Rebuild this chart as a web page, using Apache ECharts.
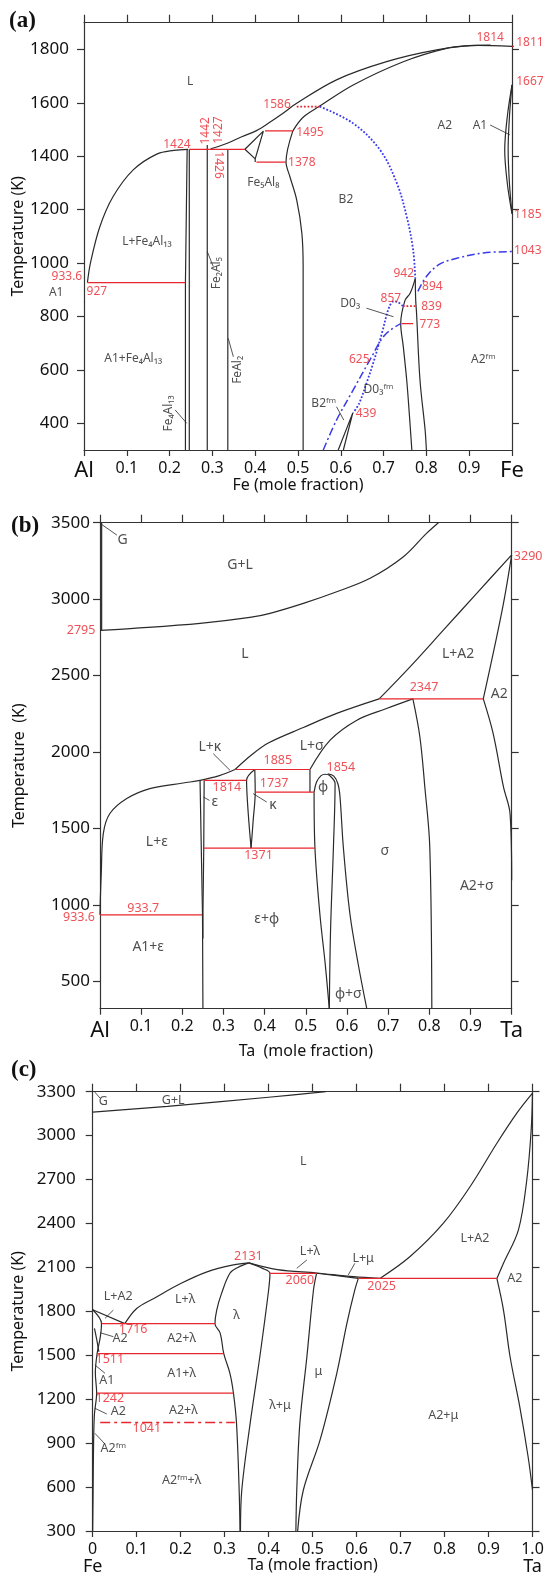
<!DOCTYPE html>
<html><head><meta charset="utf-8">
<script src="https://cdn.jsdelivr.net/npm/echarts@6/dist/echarts.min.js"></script>
<style>html,body{margin:0;padding:0;background:#fff}#c{width:544px;height:1577px}</style>
</head><body><div id="c"></div>
<script>
const FONT = '"Noto Sans","DejaVu Sans",sans-serif';
// ---------- tick values ----------
const xTicks = [0,0.1,0.2,0.3,0.4,0.5,0.6,0.7,0.8,0.9,1];
const yTicksA = [400,600,800,1000,1200,1400,1600,1800];
const yTicksB = [500,1000,1500,2000,2500,3000,3500];
const yTicksC = [300,600,900,1200,1500,1800,2100,2400,2700,3000,3300];

// ---------- panel (a) Al-Fe ----------
const aLiqLeft = [[0.008,927],[0.015,1000],[0.037,1136],[0.068,1249],[0.115,1349],[0.17,1408],[0.21,1422],[0.243,1426]];
const aFe4Al13L = [[0.237,300],[0.237,927],[0.241,1426]];
const aFe4Al13R = [[0.246,300],[0.246,1426]];
const aFe2Al5 = [[0.288,300],[0.288,1442]];
const aFeAl2 = [[0.336,300],[0.336,1426]];
const aLiqUpper = [[0.296,1428],[0.33,1446],[0.37,1474],[0.403,1496],[0.435,1528],[0.46,1555],[0.497,1598],[0.59,1686],[0.707,1754],[0.824,1798],[0.917,1815],[1.0,1811]];
const aSolB2 = [[0.488,1495],[0.512,1546],[0.551,1588],[0.629,1667],[0.746,1754],[0.847,1804],[0.902,1814],[0.95,1816]];
const aB2Left = [[0.488,1495],[0.472,1378],[0.481,1324],[0.497,1236],[0.509,1112],[0.512,986],[0.512,300]];
const aFe5Al8 = [[0.376,1426],[0.419,1494],[0.40,1390],[0.376,1426]];
const aFe5Al8Tail = [[0.40,1390],[0.40,1378]];
const aOrderB2 = [[0.551,1586],[0.629,1523],[0.692,1423],[0.731,1299],[0.754,1174],[0.769,1049],[0.774,942]];
const aOrderD03 = [[0.745,839],[0.734,853],[0.724,857],[0.713,835],[0.696,737],[0.678,637],[0.66,550],[0.643,475],[0.629,439]];
const aCurieLow = [[0.559,300],[0.59,412],[0.629,525],[0.668,637],[0.703,731],[0.74,773]];
const aCurieHigh = [[0.78,894],[0.80,950],[0.83,995],[0.871,1018],[0.933,1038],[1.0,1043]];
const aA2Bound = [[0.774,942],[0.775,862],[0.777,812],[0.785,562],[0.797,375],[0.80,300]];
const aD03Bound = [[0.774,942],[0.762,887],[0.75,860],[0.74,773],[0.746,687],[0.754,562],[0.76,437],[0.766,300]];
const aB2fm = [[0.594,300],[0.628,439],[0.606,300]];
const aGammaOuter = [[1.0,1667],[0.989,1548],[0.983,1423],[0.989,1299],[1.0,1185]];
const aGammaInner = [[1.0,1667],[0.994,1548],[0.991,1423],[0.994,1299],[1.0,1185]];
const aRed927 = [[0.008,927],[0.237,927]];
const aRed1426 = [[0.246,1426],[0.376,1426]];
const aRed1495 = [[0.423,1495],[0.488,1495]];
const aRed1378 = [[0.403,1378],[0.472,1378]];
const aRed773 = [[0.742,773],[0.769,773]];
const aRed1811 = [[1.0,1811],[1.02,1811]];
const aRed1586 = [[0.497,1586],[0.551,1586]];
const aRed839 = [[0.745,839],[0.777,839]];
const aPtrs = [
  [[-0.044,887],[-0.002,855]], [[0.213,450],[0.24,400]], [[0.288,1043],[0.302,987]],
  [[0.337,718],[0.349,649]], [[0.949,1517],[0.995,1480]], [[0.66,831],[0.723,799]], [[0.59,462],[0.607,412]]
];
const aLabels = [[0.248,1679,'L'],[0.147,1080,'L+Fe₄Al₁₃'],[-0.065,889,'A1'],[0.115,643,'A1+Fe₄Al₁₃'],[0.419,1301,'Fe₅Al₈'],
  [0.612,1236,'B2'],[0.843,1513,'A2'],[0.925,1513,'A1'],[0.622,849,'D0₃'],[0.688,525,'D0₃ᶠᵐ'],[0.56,475,'B2ᶠᵐ'],[0.933,640,'A2ᶠᵐ']];
const aLabelsRot = [[0.197,437,'Fe₄Al₁₃'],[0.31,962,'Fe₂Al₅'],[0.358,600,'FeAl₂']];
const aRedLabels = [[0.949,1843,'1814'],[1.042,1824,'1811'],[1.042,1678,'1667'],[0.451,1592,'1586'],[0.528,1487,'1495'],
  [0.509,1376,'1378'],[0.217,1442,'1424'],[-0.04,949,'933.6'],[0.03,893,'927'],[0.747,962,'942'],[0.814,912,'894'],
  [1.037,1046,'1043'],[1.037,1180,'1185'],[0.717,868,'857'],[0.812,837,'839'],[0.808,768,'773'],[0.643,637,'625'],[0.659,437,'439']];
const aRedUp = [[0.283,1495,'1442'],[0.315,1498,'1427']];
const aRedDown = [[0.315,1367,'1426']];

// ---------- panel (b) Al-Ta ----------
const bGL = [[0,2795],[0.081,2808],[0.243,2841],[0.364,2880],[0.413,2907],[0.494,2972],[0.575,3048],[0.656,3136],[0.737,3277],[0.793,3430],[0.822,3500]];
const bG = [[0.004,2795],[0.004,3500]];
const bLiqLeft = [[0,934],[0.001,1050],[0.003,1200],[0.008,1466],[0.024,1597],[0.065,1695],[0.121,1760],[0.202,1797],[0.243,1814],[0.29,1845],[0.328,1885]];
const bLiqMid = [[0.328,1885],[0.37,1985],[0.41,2060],[0.494,2160],[0.575,2252],[0.678,2347]];
const bLiqA2 = [[0.678,2347],[0.753,2557],[0.834,2797],[0.915,3038],[1.0,3290]];
const bA2Sol = [[1.0,3290],[0.98,2972],[0.955,2645],[0.931,2347]];
const bA2Solv = [[0.931,2347],[0.955,2120],[0.98,1771],[0.996,1596],[1.0,1160]];
const bSigLiq = [[0.51,1885],[0.559,2077],[0.624,2208],[0.696,2284],[0.76,2347]];
const bSigR = [[0.76,2347],[0.777,2098],[0.789,1771],[0.801,1378],[0.806,320]];
const b051 = [[0.51,1885],[0.51,1737]];
const bPhiL = [[0.52,1737],[0.522,1378],[0.534,941],[0.547,614],[0.557,320]];
const bPhiDome = [[0.52,1737],[0.526,1803],[0.537,1845],[0.547,1854],[0.558,1845],[0.571,1793],[0.567,1378],[0.56,832],[0.557,320]];
const bSigL = [[0.553,1856],[0.568,1842],[0.578,1790],[0.583,1705],[0.591,1378],[0.607,941],[0.627,614],[0.648,320]];
const bEpsL = [[0.243,1814],[0.246,1371],[0.249,934],[0.25,320]];
const bEpsR = [[0.253,1814],[0.252,1371],[0.25,934],[0.25,780]];
const bKapL = [[0.376,1885],[0.356,1814],[0.36,1600],[0.367,1371]];
const bKapR = [[0.376,1885],[0.377,1737],[0.372,1550],[0.367,1371]];
const bRed = [[[0,934],[0.248,934]],[[0.253,1814],[0.356,1814]],[[0.328,1885],[0.51,1885]],[[0.377,1737],[0.52,1737]],[[0.252,1371],[0.522,1371]],[[0.678,2347],[0.931,2347]]];
const bPtrs = [[[0,3496],[0.041,3419]],[[0.275,1989],[0.316,1879]],[[0.251,1705],[0.266,1683]],[[0.372,1727],[0.405,1672]]];
const bLabels = [[0.055,3387,'G'],[0.34,3223,'G+L'],[0.352,2644,'L'],[0.87,2644,'L+A2'],[0.97,2382,'A2'],[0.267,2032,'L+κ'],
  [0.514,2037,'L+σ'],[0.279,1672,'ε'],[0.42,1650,'κ'],[0.542,1770,'φ'],[0.138,1410,'L+ε'],[0.117,722,'A1+ε'],
  [0.405,908,'ε+φ'],[0.692,1355,'σ'],[0.915,1126,'A2+σ'],[0.603,416,'φ+σ']];
const bRedLabels = [[-0.046,2797,'2795'],[1.04,3282,'3290'],[0.787,2425,'2347'],[0.432,1945,'1885'],[0.423,1794,'1737'],
  [0.308,1770,'1814'],[0.585,1901,'1854'],[0.385,1322,'1371'],[0.105,973,'933.7'],[-0.051,918,'933.6']];

// ---------- panel (c) Fe-Ta ----------
const cGL = [[0,3160],[0.17,3200],[0.40,3262],[0.53,3300]];
const cLiqA2 = [[0.653,2025],[0.721,2173],[0.797,2401],[0.858,2651],[0.919,2948],[0.964,3152],[1.0,3290]];
const cA2Sol = [[1.0,3290],[0.997,3038],[0.987,2697],[0.968,2356],[0.934,2128],[0.919,2025]];
const cA2Solv = [[0.919,2025],[0.934,1809],[0.949,1490],[0.971,1149],[0.99,807],[1.0,580]];
const cLiqFe = [[0,1811],[0.073,1716]];
const cA2Fe = [[0,1811],[0.02,1716],[0.017,1620],[0.01,1511],[0.006,1380],[0.009,1242],[0.004,1100],[0.002,900],[0.001,600],[0,300]];
const cLoop = [[0.004,1684],[0.009,1610],[0.014,1524]];
const cLiqL = [[0.073,1716],[0.10,1820],[0.14,1890],[0.2,1990],[0.26,2070],[0.32,2117],[0.355,2131]];
const cLiqR = [[0.355,2131],[0.42,2085],[0.509,2062],[0.593,2037],[0.653,2025]];
const cLamL = [[0.355,2131],[0.33,2100],[0.312,2060],[0.293,1923],[0.282,1809],[0.278,1716],[0.29,1650],[0.298,1511],[0.312,1377],[0.32,1242],[0.327,1035],[0.333,580],[0.335,300]];
const cLamR = [[0.355,2131],[0.385,2095],[0.403,2060],[0.40,1946],[0.38,1490],[0.358,1035],[0.339,580],[0.336,300]];
const cMuL = [[0.509,2060],[0.502,1946],[0.487,1490],[0.471,1035],[0.464,580],[0.462,300]];
const cMuR = [[0.604,2025],[0.596,1946],[0.578,1718],[0.555,1377],[0.517,922],[0.479,580],[0.466,300]];
const cMuLiq = [[0.509,2060],[0.56,2042],[0.604,2025]];
const cRed = [[[0.403,2060],[0.509,2060]],[[0.604,2025],[0.919,2025]],[[0.02,1716],[0.278,1716]],[[0.01,1511],[0.298,1511]],[[0.009,1242],[0.32,1242]]];
const cRed1041 = [[0.017,1041],[0.323,1041]];
const cPtrs = [[[0.487,2151],[0.464,2094]],[[0.596,2128],[0.581,2048]],[[0.047,1809],[0.028,1752]],[[0.017,1654],[0.047,1627]],
  [[0.005,1434],[0.028,1377]],[[0.005,1138],[0.032,1099]],[[0.005,967],[0.028,894]],[[0.004,3300],[0.017,3255]]];
const cLabels = [[0.024,3232,'G'],[0.183,3243,'G+L'],[0.479,2822,'L'],[0.869,2299,'L+A2'],[0.96,2026,'A2'],[0.494,2207,'L+λ'],
  [0.615,2162,'L+μ'],[0.058,1900,'L+A2'],[0.21,1878,'L+λ'],[0.327,1775,'λ'],[0.062,1616,'A2'],[0.202,1616,'A2+λ'],
  [0.032,1331,'A1'],[0.202,1377,'A1+λ'],[0.058,1115,'A2'],[0.206,1126,'A2+λ'],[0.047,865,'A2ᶠᵐ'],[0.202,648,'A2ᶠᵐ+λ'],
  [0.426,1160,'λ+μ'],[0.513,1388,'μ'],[0.797,1092,'A2+μ']];
const cRedLabels = [[0.354,2173,'2131'],[0.471,2014,'2060'],[0.657,1968,'2025'],[0.092,1677,'1716'],[0.039,1473,'1511'],[0.039,1206,'1242'],[0.123,1001,'1041']];

// ---------- build ----------
const RED = '#e8262d', BLUE = '#3a3ae8', BLK = '#2a2a2a';
const S = [];
function ln(g, pts, o) {
  o = o || {};
  S.push({type:'line', xAxisIndex:2*g, yAxisIndex:2*g, data:pts, symbol:'none', silent:true, animation:false,
    clip: o.clip === undefined ? true : o.clip, smooth: o.smooth || 0, z: o.z || 2,
    lineStyle:{color:o.color || BLK, width:o.width || 1.2, type:o.type || 'solid'}});
}
function tx(g, items, o) {
  o = o || {};
  S.push({type:'scatter', xAxisIndex:2*g, yAxisIndex:2*g, symbolSize:1, itemStyle:{color:'rgba(0,0,0,0)'},
    clip:false, silent:true, animation:false, z:5,
    data: items.map(d => ({value:[d[0], d[1]], name:d[2]})),
    label:{show:true, position:'inside', formatter:p => p.name, color:o.color || '#222', fontSize:o.size || 12,
      fontFamily:FONT, rotate:o.rotate || 0}});
}
const SM = 0.35, DASHDOT = [8,3,2,3];
// panel a
[aFe4Al13L, aFe4Al13R, aFe2Al5, aFeAl2, aFe5Al8, aFe5Al8Tail, aB2fm].forEach(p => ln(0, p));
[aLiqLeft, aLiqUpper, aSolB2, aB2Left, aA2Bound, aD03Bound, aGammaOuter, aGammaInner].forEach(p => ln(0, p, {smooth:SM}));
ln(0, aOrderB2, {color:BLUE, type:'dotted', width:1.8, smooth:SM});
ln(0, aOrderD03, {color:BLUE, type:'dotted', width:1.8, smooth:SM});
ln(0, aCurieLow, {color:BLUE, type:DASHDOT, width:1.5, smooth:SM});
ln(0, aCurieHigh, {color:BLUE, type:DASHDOT, width:1.5, smooth:SM});
[aRed927, aRed1426, aRed1495, aRed1378, aRed773].forEach(p => ln(0, p, {color:RED}));
ln(0, aRed1811, {color:RED, clip:false});
ln(0, aRed1586, {color:RED, type:'dotted', width:1.8});
ln(0, aRed839, {color:RED, type:'dotted', width:1.8});
aPtrs.forEach(p => ln(0, p, {width:0.8, clip:false}));
tx(0, aLabels, {size:12});
tx(0, aLabelsRot, {size:12, rotate:90});
tx(0, aRedLabels, {size:12, color:RED});
tx(0, aRedUp, {size:12, color:RED, rotate:90});
tx(0, aRedDown, {size:12, color:RED, rotate:-90});
// panel b
[bG, b051, bEpsL, bEpsR].forEach(p => ln(1, p));
[bGL, bLiqLeft, bLiqMid, bLiqA2, bA2Sol, bA2Solv, bSigLiq, bSigR, bPhiL, bPhiDome, bSigL, bKapL, bKapR].forEach(p => ln(1, p, {smooth:SM}));
bRed.forEach(p => ln(1, p, {color:RED}));
bPtrs.forEach(p => ln(1, p, {width:0.8}));
tx(1, bLabels, {size:14});
tx(1, bRedLabels, {size:12.5, color:RED});
// panel c
[cLiqFe, cMuLiq].forEach(p => ln(2, p));
[cGL, cLiqA2, cA2Sol, cA2Solv, cA2Fe, cLoop, cLiqL, cLiqR, cLamL, cLamR, cMuL, cMuR].forEach(p => ln(2, p, {smooth:SM}));
cRed.forEach(p => ln(2, p, {color:RED}));
ln(2, cRed1041, {color:RED, type:[10,4,3,4], width:1.4});
cPtrs.forEach(p => ln(2, p, {width:0.8}));
tx(2, cLabels, {size:12.5});
tx(2, cRedLabels, {size:12.5, color:RED});

// ---------- axes ----------
const grids = [
  {left:84, top:22.7, width:428, height:427.3},
  {left:100, top:522.7, width:411.7, height:486},
  {left:92.7, top:1091.7, width:439.8, height:439.3}
];
const AX = {color:'#333', width:1.2};
const xCfg = [
  {fmt: v => v === 0 ? '{e|Al}' : v === 1 ? '{e|Fe}' : v.toFixed(1), name:'Fe (mole fraction)', gap:27, rich:{e:{fontSize:22, fontFamily:FONT, color:'#111', padding:[6,0,0,0]}}},
  {fmt: v => v === 0 ? '{e|Al}' : v === 1 ? '{e|Ta}' : v.toFixed(1), name:'Ta  (mole fraction)', gap:35, rich:{e:{fontSize:22, fontFamily:FONT, color:'#111', padding:[8,0,0,0]}}},
  {fmt: v => v === 0 ? '0\n{e|Fe}' : v === 1 ? '1.0\n{e|Ta}' : v.toFixed(1), name:'Ta (mole fraction)', gap:26, rich:{e:{fontSize:18, fontFamily:FONT, color:'#111', lineHeight:18}}}
];
const yCfg = [
  {min:300, max:1900, ticks:yTicksA, margin:15, gap:58, name:'Temperature (K)'},
  {min:320, max:3500, ticks:yTicksB, margin:10, gap:73, name:'Temperature  (K)'},
  {min:300, max:3300, ticks:yTicksC, margin:17, gap:66, name:'Temperature (K)'}
];
const xAxis = [], yAxis = [];
for (let g = 0; g < 3; g++) {
  const xc = xCfg[g], yc = yCfg[g];
  xAxis.push({gridIndex:g, type:'value', min:0, max:1, interval:0.1, position:'bottom',
    axisLine:{show:true, onZero:false, lineStyle:AX}, axisTick:{show:true, length:6, lineStyle:AX}, splitLine:{show:false},
    axisLabel:{show:true, formatter:xc.fmt, rich:xc.rich, color:'#111', fontSize:16, fontFamily:FONT, margin:9, lineHeight:18,
      showMinLabel:true, showMaxLabel:true, hideOverlap:false},
    name:xc.name, nameLocation:'middle', nameGap:xc.gap, nameMoveOverlap:false, nameTextStyle:{color:'#111', fontSize:16, fontFamily:FONT}});
  xAxis.push({gridIndex:g, type:'value', min:0, max:1, interval:0.1, position:'top',
    axisLine:{show:true, onZero:false, lineStyle:AX}, axisTick:{show:true, length:8, lineStyle:AX},
    axisLabel:{show:false}, splitLine:{show:false}});
  yAxis.push({gridIndex:g, type:'value', min:yc.min, max:yc.max, position:'left',
    axisLine:{show:true, onZero:false, lineStyle:AX}, axisTick:{show:true, length:7, lineStyle:AX, customValues:yc.ticks},
    axisLabel:{show:true, customValues:yc.ticks, formatter:v => String(Math.round(v)), color:'#111', fontSize:17, fontFamily:FONT, margin:yc.margin},
    splitLine:{show:false},
    name:yc.name, nameLocation:'middle', nameGap:yc.gap, nameRotate:90, nameMoveOverlap:false, nameTextStyle:{color:'#111', fontSize:16, fontFamily:FONT}});
  yAxis.push({gridIndex:g, type:'value', min:yc.min, max:yc.max, position:'right',
    axisLine:{show:true, onZero:false, lineStyle:AX}, axisTick:{show:true, length:7, lineStyle:AX, customValues:yc.ticks},
    axisLabel:{show:false}, splitLine:{show:false}});
}
const TS = {fontFamily:'"Liberation Serif","DejaVu Serif",serif', fontWeight:'bold', fontSize:23, color:'#111'};
const chart = echarts.init(document.getElementById('c'), null, {renderer:'canvas'});
chart.setOption({
  animation:false,
  backgroundColor:'#fff',
  title:[
    {text:'(a)', left:9, top:10, padding:0, textStyle:TS},
    {text:'(b)', left:11, top:515, padding:0, textStyle:TS},
    {text:'(c)', left:11, top:1059, padding:0, textStyle:TS}
  ],
  grid: grids.map(g => Object.assign({containLabel:false, outerBoundsMode:'none'}, g)),
  xAxis, yAxis, series:S
});
</script></body></html>
